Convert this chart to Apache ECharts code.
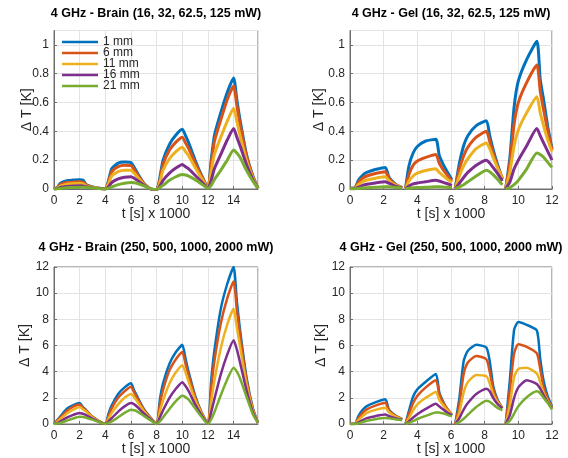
<!DOCTYPE html>
<html>
<head>
<meta charset="utf-8">
<script src="https://cdn.jsdelivr.net/npm/echarts@6/dist/echarts.min.js"></script>
<style>
  html, body { margin: 0; padding: 0; background: #fff; }
  #chart { width: 568px; height: 458px; }
</style>
</head>
<body>
<div id="chart"></div>
<script>
// Probe depths and their line colours
const depths = ['1 mm', '6 mm', '11 mm', '16 mm', '21 mm'];
const depthColors = ['#0072BD', '#D95319', '#EDB120', '#7E2F8E', '#77AC30'];

// Brain phantom: time base in seconds x 1000 (four heating / cooling cycles)
const tBrain = [0, 0.25, 0.5, 1, 1.5, 2, 2.25, 2.5, 3, 3.5,
  4, 4.25, 4.5, 5, 5.5, 6, 6.25, 6.5, 7, 7.5,
  8, 8.25, 8.5, 9, 9.5, 10, 10.25, 10.5, 11, 11.5,
  12, 12.25, 12.5, 13, 13.5, 14, 14.25, 14.5, 15, 15.5, 15.9];

// Brain, 16 / 32 / 62.5 / 125 mW: temperature rise [K]
const brainLow1 = [0, 0.01, 0.04, 0.058, 0.062, 0.065, 0.062, 0.032, 0.015, 0.006,
  0, 0.06, 0.14, 0.18, 0.187, 0.183, 0.15, 0.11, 0.04, 0.002,
  -0.006, 0.08, 0.2, 0.31, 0.375, 0.415, 0.37, 0.32, 0.2, 0.095,
  0.005, 0.2, 0.37, 0.53, 0.67, 0.77, 0.62, 0.48, 0.24, 0.09, 0.005];
const brainLow6 = [0, 0.008, 0.03, 0.045, 0.048, 0.05, 0.048, 0.027, 0.012, 0.005,
  0, 0.05, 0.12, 0.155, 0.165, 0.163, 0.135, 0.1, 0.038, 0.002,
  -0.006, 0.06, 0.17, 0.27, 0.325, 0.36, 0.32, 0.28, 0.18, 0.09,
  0.005, 0.17, 0.33, 0.48, 0.62, 0.715, 0.58, 0.45, 0.23, 0.085, 0.005];
const brainLow11 = [0, 0.005, 0.02, 0.033, 0.038, 0.04, 0.038, 0.022, 0.01, 0.004,
  0, 0.035, 0.09, 0.12, 0.13, 0.13, 0.11, 0.083, 0.033, 0.002,
  -0.006, 0.045, 0.13, 0.21, 0.26, 0.29, 0.26, 0.23, 0.15, 0.075,
  0.005, 0.12, 0.24, 0.36, 0.47, 0.56, 0.47, 0.37, 0.2, 0.075, 0.005];
const brainLow16 = [0, 0.003, 0.01, 0.017, 0.02, 0.022, 0.021, 0.015, 0.007, 0.003,
  0, 0.015, 0.045, 0.07, 0.082, 0.085, 0.075, 0.06, 0.028, 0,
  -0.008, 0.02, 0.06, 0.11, 0.145, 0.17, 0.155, 0.14, 0.095, 0.05,
  0.005, 0.06, 0.14, 0.24, 0.34, 0.42, 0.36, 0.3, 0.17, 0.065, 0.005];
const brainLow21 = [0, 0.001, 0.004, 0.008, 0.011, 0.013, 0.013, 0.011, 0.007, 0.003,
  0, 0.005, 0.015, 0.03, 0.04, 0.045, 0.043, 0.038, 0.022, 0.003,
  -0.005, 0.01, 0.025, 0.06, 0.085, 0.1, 0.097, 0.09, 0.065, 0.035,
  0.005, 0.025, 0.065, 0.13, 0.2, 0.27, 0.25, 0.22, 0.13, 0.055, 0.005];

// Brain, 250 / 500 / 1000 / 2000 mW: temperature rise [K]
const brainHigh1 = [0, 0.3, 0.58, 1.17, 1.45, 1.6, 1.3, 1.07, 0.55, 0.23,
  0, 0.8, 1.42, 2.3, 2.8, 3.12, 2.55, 2.07, 1.15, 0.52,
  0, 1.85, 3.1, 4.6, 5.5, 6.05, 5.0, 3.95, 2.17, 0.9,
  0, 3.3, 5.6, 8.8, 10.7, 12.0, 9.4, 7.2, 3.6, 1.2, 0.1];
const brainHigh6 = [0, 0.25, 0.5, 1.0, 1.33, 1.5, 1.25, 1.02, 0.55, 0.23,
  0, 0.6, 1.2, 2.0, 2.5, 2.85, 2.4, 1.95, 1.1, 0.5,
  0, 1.5, 2.6, 4.1, 4.95, 5.5, 4.6, 3.7, 2.05, 0.85,
  0, 2.7, 4.8, 7.7, 9.6, 10.9, 8.7, 6.8, 3.4, 1.15, 0.1];
const brainHigh11 = [0, 0.15, 0.38, 0.8, 1.1, 1.3, 1.12, 0.95, 0.52, 0.22,
  0, 0.4, 0.85, 1.5, 2.0, 2.3, 2.05, 1.7, 1.0, 0.45,
  0, 0.95, 1.8, 3.1, 3.95, 4.5, 3.95, 3.2, 1.85, 0.8,
  0, 1.7, 3.3, 5.8, 7.6, 8.8, 7.4, 5.9, 3.1, 1.05, 0.1];
const brainHigh16 = [0, 0.07, 0.2, 0.48, 0.7, 0.85, 0.78, 0.68, 0.42, 0.18,
  0, 0.2, 0.45, 0.95, 1.35, 1.6, 1.5, 1.3, 0.8, 0.38,
  0, 0.5, 1.05, 2.0, 2.7, 3.2, 2.9, 2.5, 1.5, 0.68,
  0, 0.9, 1.9, 3.8, 5.3, 6.4, 5.7, 4.7, 2.6, 0.9, 0.08];
const brainHigh21 = [0, 0.03, 0.08, 0.25, 0.42, 0.55, 0.53, 0.48, 0.33, 0.15,
  0, 0.08, 0.2, 0.52, 0.85, 1.08, 1.05, 0.95, 0.62, 0.3,
  0, 0.2, 0.5, 1.15, 1.75, 2.15, 2.05, 1.85, 1.2, 0.55,
  0, 0.35, 0.9, 2.2, 3.4, 4.3, 4.0, 3.5, 2.1, 0.75, 0.08];

// Gel phantom: time base in seconds x 1000; recordings are separate per cycle
// (null entries break the line between cycles)
const tGel = [0, 0.3, 0.5, 0.75, 1, 1.5, 2.1, 2.3, 2.5, 2.75, 3.1,
  3.2,
  3.3, 3.5, 3.75, 4, 4.5, 5.1, 5.3, 5.5, 5.75, 6.05,
  6.15,
  6.25, 6.5, 6.75, 7, 7.5, 8.1, 8.3, 8.5, 8.75, 9.05,
  9.15,
  9.25, 9.5, 9.75, 10, 10.5, 11.1, 11.3, 11.5, 11.75, 12];

// Gel, 16 / 32 / 62.5 / 125 mW: temperature rise [K]
const gelLow1 = [0.005, 0.01, 0.06, 0.095, 0.115, 0.135, 0.15, 0.085, 0.055, 0.03, 0.01, null,
  0.005, 0.16, 0.25, 0.295, 0.333, 0.345, 0.235, 0.18, 0.125, 0.065, null,
  0.005, 0.18, 0.3, 0.37, 0.44, 0.473, 0.37, 0.275, 0.175, 0.07, null,
  0.0, 0.22, 0.57, 0.75, 0.9, 1.025, 0.76, 0.62, 0.43, 0.28];
const gelLow6 = [0.005, 0.008, 0.045, 0.075, 0.09, 0.107, 0.12, 0.075, 0.05, 0.028, 0.01, null,
  0.005, 0.1, 0.165, 0.195, 0.22, 0.24, 0.18, 0.14, 0.1, 0.055, null,
  0.005, 0.14, 0.23, 0.29, 0.36, 0.40, 0.33, 0.25, 0.16, 0.075, null,
  0.005, 0.18, 0.45, 0.6, 0.74, 0.86, 0.68, 0.55, 0.4, 0.27];
const gelLow11 = [0.003, 0.005, 0.03, 0.05, 0.062, 0.075, 0.085, 0.06, 0.04, 0.025, 0.01, null,
  0.003, 0.055, 0.09, 0.11, 0.128, 0.14, 0.115, 0.095, 0.07, 0.045, null,
  0.003, 0.09, 0.16, 0.21, 0.28, 0.32, 0.28, 0.22, 0.15, 0.075, null,
  0.003, 0.12, 0.3, 0.41, 0.53, 0.64, 0.53, 0.44, 0.34, 0.26];
const gelLow16 = [0.002, 0.003, 0.012, 0.025, 0.033, 0.042, 0.05, 0.04, 0.03, 0.018, 0.007, null,
  0.002, 0.02, 0.035, 0.042, 0.05, 0.06, 0.055, 0.048, 0.038, 0.025, null,
  0.002, 0.04, 0.08, 0.115, 0.165, 0.2, 0.18, 0.15, 0.11, 0.055, null,
  0.002, 0.05, 0.14, 0.2, 0.3, 0.42, 0.37, 0.32, 0.26, 0.2];
const gelLow21 = [0.002, 0.002, 0.004, 0.007, 0.009, 0.012, 0.015, 0.015, 0.013, 0.01, 0.007, null,
  0.002, 0.005, 0.008, 0.01, 0.012, 0.015, 0.015, 0.014, 0.012, 0.01, null,
  0.003, 0.015, 0.03, 0.05, 0.09, 0.13, 0.12, 0.1, 0.07, 0.03, null,
  0.002, 0.01, 0.03, 0.06, 0.14, 0.25, 0.24, 0.22, 0.185, 0.15];

// Gel, 250 / 500 / 1000 / 2000 mW: temperature rise [K]
const gelHigh1 = [0, 0.02, 0.6, 1.08, 1.37, 1.65, 1.89, 1.12, 0.85, 0.6, 0.38, null,
  0.02, 1.0, 2.1, 2.65, 3.23, 3.83, 2.45, 1.8, 1.2, 0.65, null,
  0.02, 2.0, 4.8, 5.6, 6.05, 5.85, 4.8, 2.95, 1.9, 1.22, null,
  0.02, 3.4, 7.2, 7.8, 7.58, 7.15, 5.0, 3.3, 2.1, 1.35];
const gelHigh6 = [0, 0.02, 0.45, 0.85, 1.12, 1.4, 1.62, 1.05, 0.8, 0.58, 0.38, null,
  0.02, 0.75, 1.6, 2.15, 2.8, 3.35, 2.3, 1.72, 1.2, 0.75, null,
  0.02, 1.5, 3.8, 4.7, 5.2, 4.95, 4.0, 2.7, 1.8, 1.25, null,
  0.02, 2.6, 5.4, 6.1, 5.9, 5.4, 4.2, 2.8, 1.9, 1.28];
const gelHigh11 = [0, 0.01, 0.3, 0.6, 0.85, 1.08, 1.25, 0.9, 0.72, 0.55, 0.38, null,
  0.01, 0.45, 1.05, 1.5, 2.0, 2.45, 1.85, 1.5, 1.1, 0.75, null,
  0.01, 0.9, 2.4, 3.2, 3.75, 3.65, 3.1, 2.3, 1.7, 1.25, null,
  0.01, 1.5, 3.6, 4.2, 4.3, 3.85, 3.2, 2.4, 1.75, 1.25];
const gelHigh16 = [0, 0, 0.12, 0.3, 0.45, 0.6, 0.72, 0.62, 0.52, 0.42, 0.32, null,
  0, 0.2, 0.5, 0.75, 1.15, 1.55, 1.35, 1.15, 0.9, 0.68, null,
  0, 0.45, 1.1, 1.6, 2.3, 2.7, 2.5, 2.0, 1.55, 1.2, null,
  0, 0.7, 2.0, 2.8, 3.35, 3.05, 2.7, 2.2, 1.65, 1.2];
const gelHigh21 = [0, 0, 0.05, 0.15, 0.25, 0.37, 0.45, 0.44, 0.4, 0.35, 0.28, null,
  0, 0.08, 0.22, 0.38, 0.62, 0.88, 0.88, 0.82, 0.72, 0.58, null,
  0, 0.15, 0.4, 0.7, 1.3, 1.78, 1.7, 1.5, 1.25, 1.05, null,
  0, 0.25, 0.8, 1.35, 2.05, 2.5, 2.35, 2.0, 1.6, 1.1];

// Panel titles and axis text
const panelTitles = [
  '4 GHz - Brain (16, 32, 62.5, 125 mW)',
  '4 GHz - Gel (16, 32, 62.5, 125 mW)',
  '4 GHz - Brain (250, 500, 1000, 2000 mW)',
  '4 GHz - Gel (250, 500, 1000, 2000 mW)'
];
const xAxisTitle = 't [s] x 1000';
const yAxisTitle = '\u0394 T [K]';

const FONT = '"Liberation Sans", Arial, Helvetica, sans-serif';
const TEXT = '#262626';

// Layout and scale of each subplot
const panels = [
  { t: tBrain, ys: [brainLow1, brainLow6, brainLow11, brainLow16, brainLow21],
    xMax: 15.9, yMax: 1.1, yStep: 0.2, lw: 3,
    grid: { left: 54, top: 30.5, width: 204, height: 158.5 }, titleY: 7, yGap: 20 },
  { t: tGel, ys: [gelLow1, gelLow6, gelLow11, gelLow16, gelLow21],
    xMax: 12, yMax: 1.1, yStep: 0.2, lw: 3,
    grid: { left: 350, top: 30.5, width: 202, height: 158.5 }, titleY: 7, yGap: 24 },
  { t: tBrain, ys: [brainHigh1, brainHigh6, brainHigh11, brainHigh16, brainHigh21],
    xMax: 15.9, yMax: 12, yStep: 2, lw: 2.5,
    grid: { left: 54, top: 267, width: 204, height: 157 }, titleY: 241, yGap: 22 },
  { t: tGel, ys: [gelHigh1, gelHigh6, gelHigh11, gelHigh16, gelHigh21],
    xMax: 12, yMax: 12, yStep: 2, lw: 2.5,
    grid: { left: 350, top: 267, width: 202, height: 157 }, titleY: 241, yGap: 22 }
];

function pairs(t, v) {
  return t.map((x, i) => [x, v[i] === null ? '-' : v[i]]);
}

const grids = [], xAxes = [], yAxes = [], titles = [], series = [];
panels.forEach((p, i) => {
  grids.push(Object.assign({ show: true, borderColor: '#6e6e6e', borderWidth: 1,
    backgroundColor: '#fff', containLabel: false }, p.grid));
  titles.push({
    text: panelTitles[i],
    left: p.grid.left + p.grid.width / 2,
    top: p.titleY,
    textAlign: 'center',
    padding: 0,
    textStyle: { fontFamily: FONT, fontSize: 12.5, fontWeight: 'bold', color: '#000' }
  });
  xAxes.push({
    gridIndex: i, type: 'value', min: 0, max: p.xMax, interval: 2,
    axisLine: { show: true, onZero: false, lineStyle: { color: '#6e6e6e', width: 1 } },
    axisTick: { show: true, inside: true, length: 3, lineStyle: { color: '#6e6e6e' } },
    axisLabel: { color: TEXT, fontFamily: FONT, fontSize: 12, margin: 6,
      showMaxLabel: p.xMax % 2 === 0 },
    splitLine: { show: true, lineStyle: { color: '#e3e3e3', width: 1 } },
    name: xAxisTitle, nameLocation: 'middle', nameGap: 18, nameMoveOverlap: false,
    nameTextStyle: { color: TEXT, fontFamily: FONT, fontSize: 14 }
  });
  yAxes.push({
    gridIndex: i, type: 'value', min: 0, max: p.yMax, interval: p.yStep,
    axisLine: { show: true, lineStyle: { color: '#6e6e6e', width: 1 } },
    axisTick: { show: true, inside: true, length: 3, lineStyle: { color: '#6e6e6e' } },
    axisLabel: { color: TEXT, fontFamily: FONT, fontSize: 12, margin: 5,
      showMaxLabel: Math.abs(p.yMax / p.yStep - Math.round(p.yMax / p.yStep)) < 1e-9,
      formatter: v => String(Math.round(v * 100) / 100) },
    splitLine: { show: true, lineStyle: { color: '#e3e3e3', width: 1 } },
    name: yAxisTitle, nameLocation: 'middle', nameGap: p.yGap, nameRotate: 90,
    nameMoveOverlap: false,
    nameTextStyle: { color: TEXT, fontFamily: FONT, fontSize: 14 }
  });
  p.ys.forEach((vals, k) => {
    series.push({
      type: 'line', name: depths[k], xAxisIndex: i, yAxisIndex: i,
      data: pairs(p.t, vals), symbol: 'none', showSymbol: false,
      connectNulls: false, clip: true, smooth: 0.2,
      lineStyle: { width: p.lw, color: depthColors[k], join: 'round' },
      itemStyle: { color: depthColors[k] },
      emphasis: { disabled: true }
    });
  });
});

const chart = echarts.init(document.getElementById('chart'), null, { renderer: 'canvas' });
chart.setOption({
  animation: false,
  backgroundColor: '#fff',
  title: titles,
  grid: grids,
  xAxis: xAxes,
  yAxis: yAxes,
  legend: {
    data: depths, orient: 'vertical', left: 62, top: 36,
    icon: 'rect', itemWidth: 36, itemHeight: 2.5, itemGap: -1,
    padding: 0, selectedMode: false,
    textStyle: { color: TEXT, fontFamily: FONT, fontSize: 12, lineHeight: 10 }
  },
  series: series
});
</script>
</body>
</html>
